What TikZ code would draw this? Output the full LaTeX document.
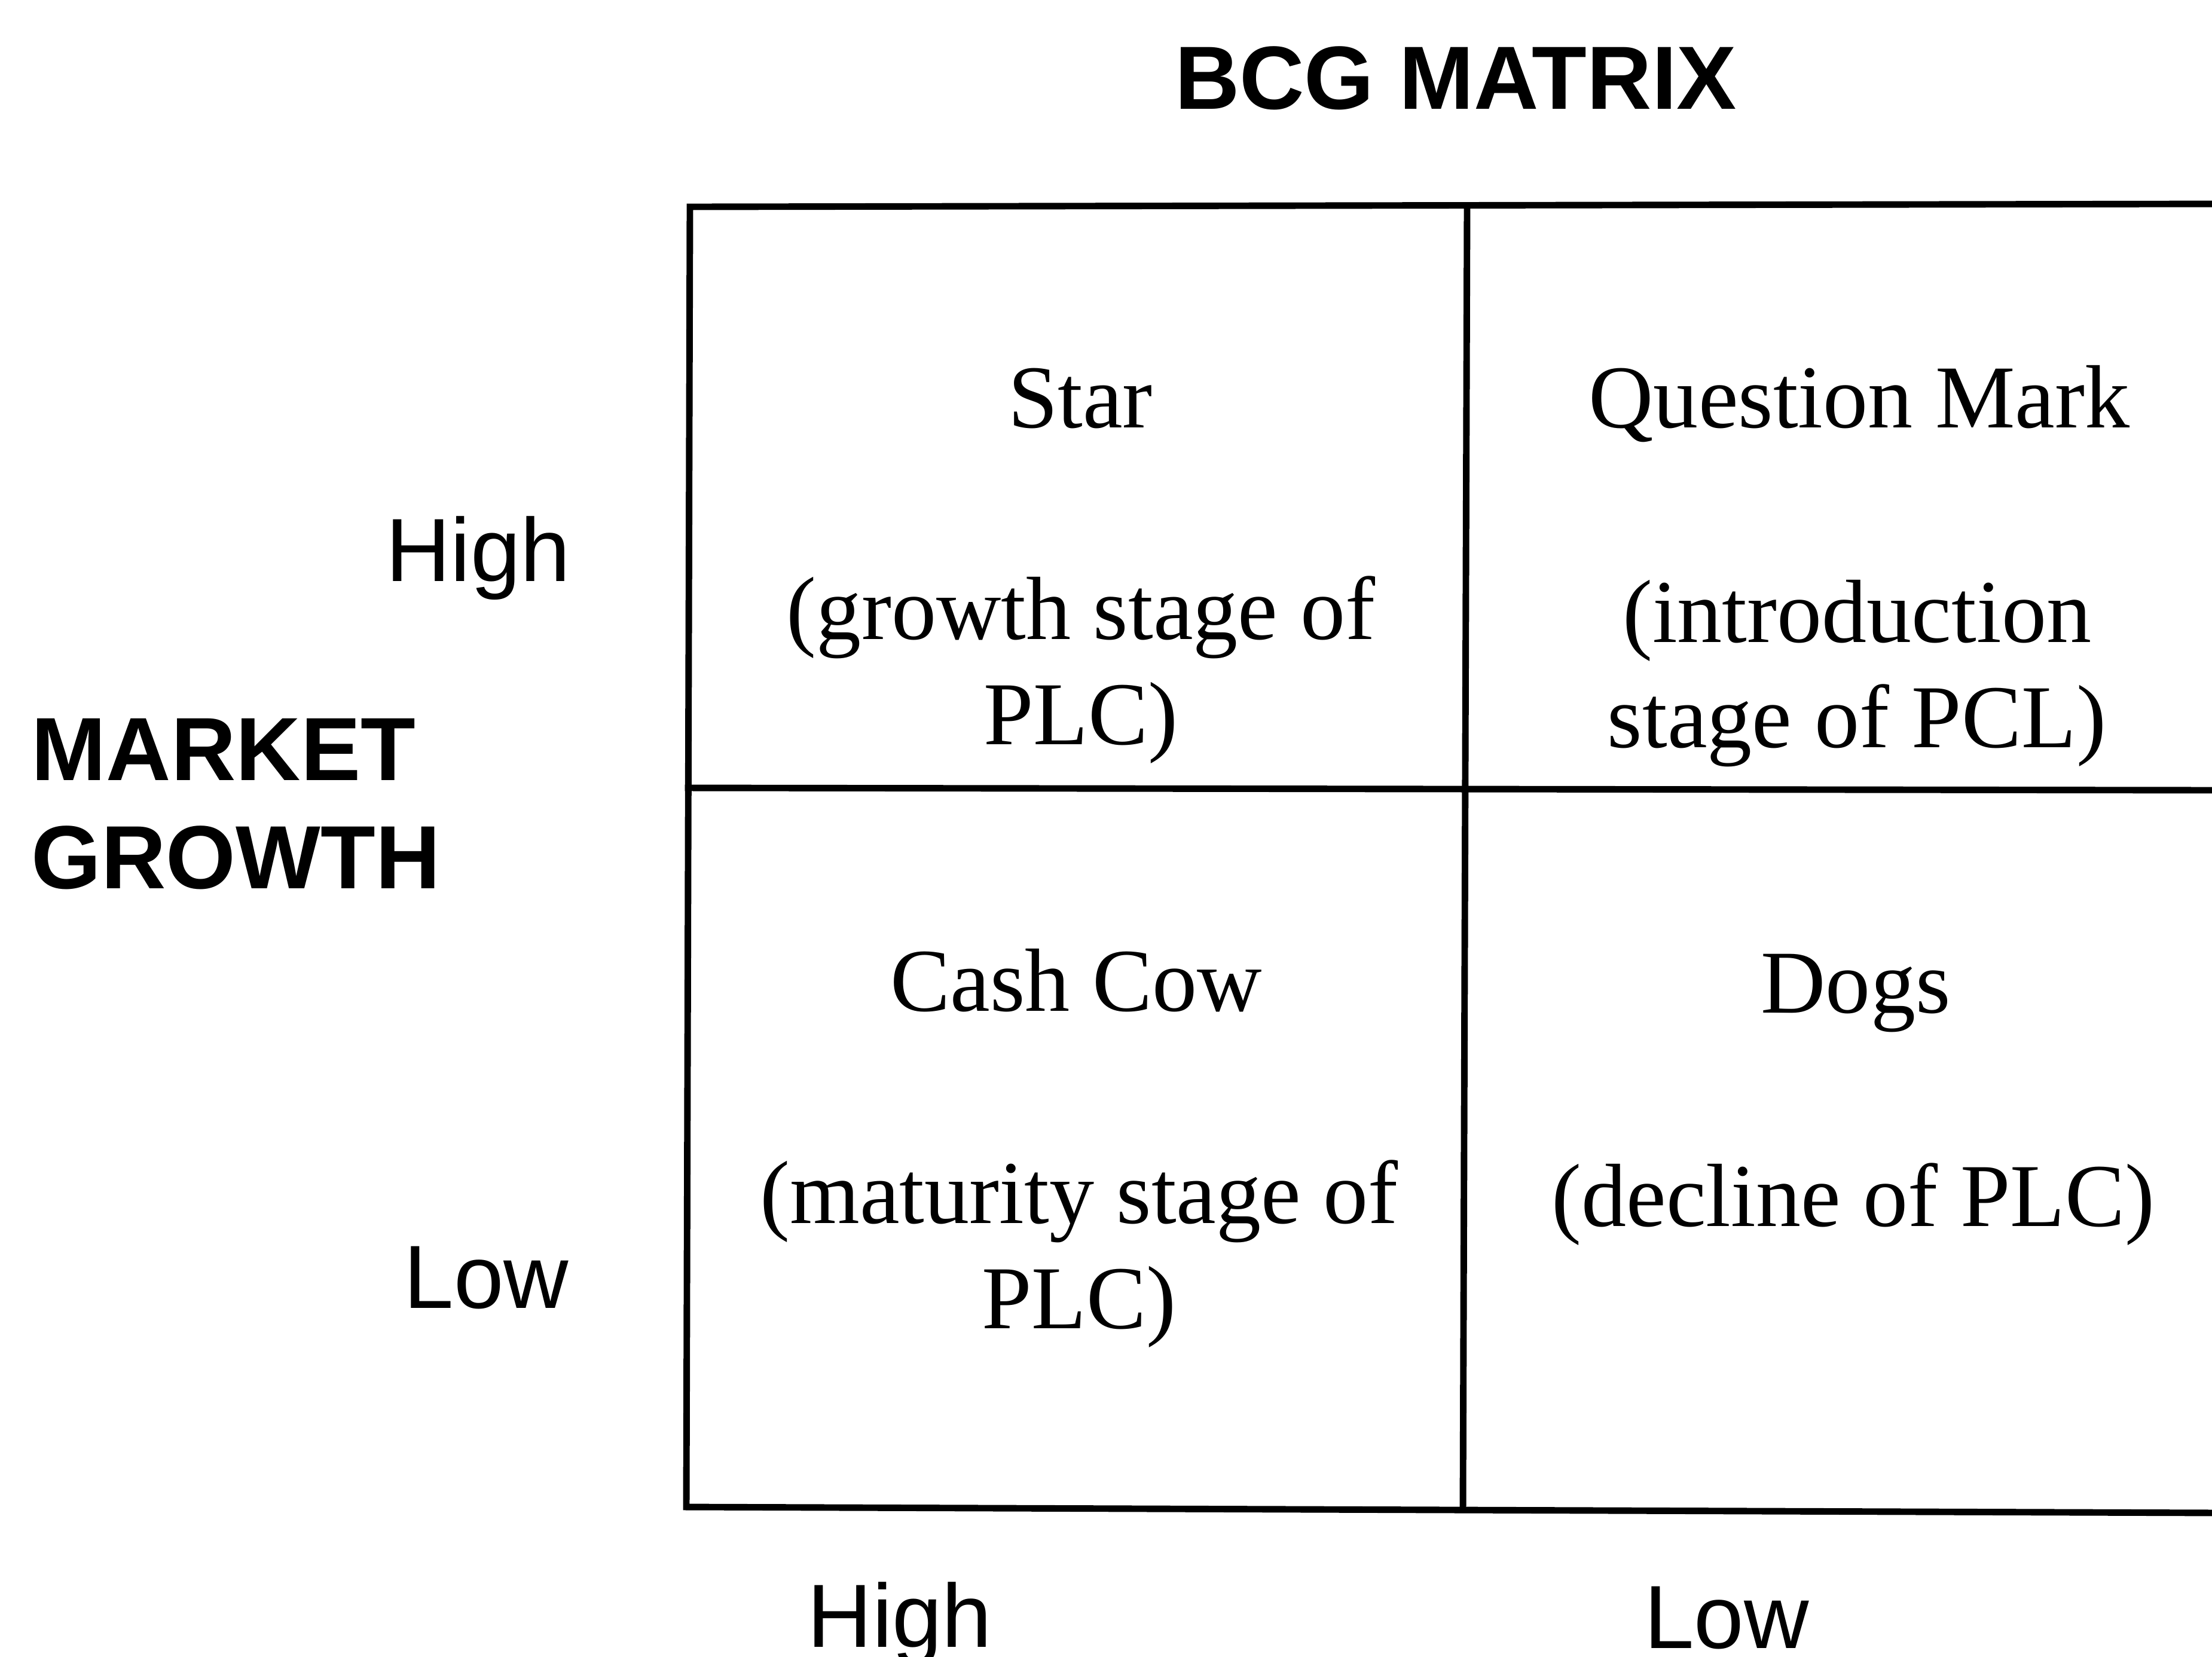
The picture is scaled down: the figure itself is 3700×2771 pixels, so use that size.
\documentclass[tikz,border=0pt]{standalone}
\usepackage{fontspec}
\setmainfont{Liberation Serif}
\newfontfamily\headfont{Liberation Sans}
\begin{document}
\begin{tikzpicture}[x=0.01cm,y=-0.01cm,
  gridline/.style={line width=3.1pt, line cap=rect},
  celltext/.style={font=\fontsize{42.7}{50.3}\selectfont, anchor=base, inner sep=0pt},
  axislabel/.style={font=\headfont\fontsize{42.7}{51.6}\selectfont, inner sep=0pt},
  heading/.style={font=\headfont\bfseries\fontsize{42.7}{51.6}\selectfont, inner sep=0pt}]
\useasboundingbox (0,0) rectangle (3700,2771);

% title
\node[heading, anchor=base] (title) at (2435,182) {BCG MATRIX};

% grid corners (the right column runs past the page edge)
\coordinate (tl) at (1154,346);
\coordinate (tm) at (2454,344);
\coordinate (tr) at (3720,341);
\coordinate (ml) at (1151,1318);
\coordinate (mr) at (3720,1322);
\coordinate (bl) at (1148,2521);
\coordinate (bm) at (2447,2524);
\coordinate (br) at (3720,2531);

\draw[gridline] (tr) -- (tl) -- (bl) -- (br);
\draw[gridline] (ml) -- (mr);
\draw[gridline] (tm) -- (bm);

% quadrants
\node[celltext] (star) at (1807,715) {Star};
\node[celltext] (stardesc) at (1808,1069)
  {\begin{tabular}[t]{@{}c@{}}(growth stage of\\PLC)\end{tabular}};

\node[celltext] (qmark) at (3110,715) {Question Mark};
\node[celltext] (qmarkdesc) at (3106,1074)
  {\begin{tabular}[t]{@{}c@{}}(introduction\\stage of PCL)\end{tabular}};

\node[celltext] (cow) at (1800,1691) {Cash Cow};
\node[celltext] (cowdesc) at (1805,2046)
  {\begin{tabular}[t]{@{}c@{}}(maturity stage of\\PLC)\end{tabular}};

\node[celltext] (dogs) at (3104,1694) {Dogs};
\node[celltext] (dogsdesc) at (3100,2051) {(decline of PLC)};

% vertical axis
\node[axislabel, anchor=base east] (ghigh) at (955,972) {High};
\node[axislabel, anchor=base east] (glow) at (952,2188) {Low};
\node[heading, anchor=base west] (growth) at (52,1305)
  {\begin{tabular}[t]{@{}l@{}}MARKET\\GROWTH\end{tabular}};

% horizontal axis
\node[axislabel, anchor=base] (shigh) at (1505,2755) {High};
\node[axislabel, anchor=base] (slow) at (2888,2757) {Low};
\end{tikzpicture}
\end{document}
